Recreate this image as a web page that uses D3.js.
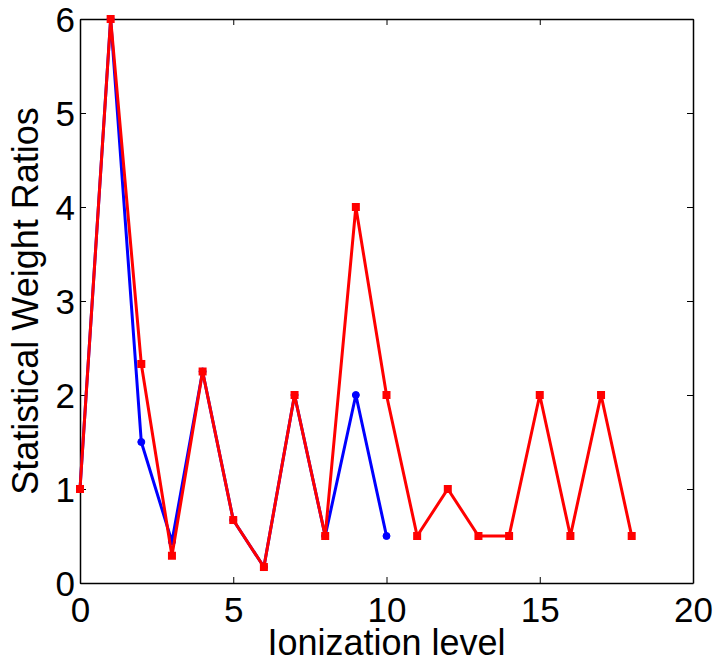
<!DOCTYPE html>
<html>
<head>
<meta charset="utf-8">
<script src="https://cdnjs.cloudflare.com/ajax/libs/d3/7.8.5/d3.min.js"></script>
<style>
  body { margin: 0; background: #fff; }
  text { font-family: "Liberation Sans", Arial, sans-serif; }
</style>
</head>
<body>
<div id="chart"></div>
<script>
// ionization levels and the two ratio series
var levelsBlue = [0, 1, 2, 3, 4, 5, 6, 7, 8, 9, 10];
var ratiosBlue = [1, 6, 1.5, 0.44, 2.25, 0.67, 0.17, 2, 0.5, 2, 0.5];
var levelsRed = [0, 1, 2, 3, 4, 5, 6, 7, 8, 9, 10, 11, 12, 13, 14, 15, 16, 17, 18];
var ratiosRed = [1, 6, 2.33, 0.29, 2.25, 0.67, 0.17, 2, 0.5, 4, 2, 0.5, 1, 0.5, 0.5, 2, 0.5, 2, 0.5];
var xTicks = [0, 5, 10, 15, 20];
var yTicks = [0, 1, 2, 3, 4, 5, 6];

var width = 717, height = 661;
var margin = {left: 80, right: 24, top: 19, bottom: 78};

var svg = d3.select("#chart").append("svg")
    .attr("width", width)
    .attr("height", height);

var x = d3.scaleLinear().domain([0, 20]).range([margin.left, width - margin.right]);
var y = d3.scaleLinear().domain([0, 6]).range([height - margin.bottom, margin.top]);

// axes, ticks pointing in like matlab
var xAxis = d3.axisBottom(x).tickValues(xTicks).tickFormat(d3.format("d"))
    .tickSizeInner(-6).tickSizeOuter(0).tickPadding(14);
var yAxis = d3.axisLeft(y).tickValues(yTicks).tickFormat(d3.format("d"))
    .tickSizeInner(-6).tickSizeOuter(0).tickPadding(5);

var gx = svg.append("g").attr("transform", "translate(0," + y(0) + ")").call(xAxis);
var gy = svg.append("g").attr("transform", "translate(" + x(0) + ",0)").call(yAxis);
var gxTop = svg.append("g").attr("transform", "translate(0," + y(6) + ")")
    .call(d3.axisTop(x).tickValues(xTicks).tickSizeInner(-6).tickSizeOuter(0).tickFormat(""));
var gyRight = svg.append("g").attr("transform", "translate(" + x(20) + ",0)")
    .call(d3.axisRight(y).tickValues(yTicks).tickSizeInner(-6).tickSizeOuter(0).tickFormat(""));

[gx, gy, gxTop, gyRight].forEach(function(g){
  g.select(".domain").attr("stroke", "#000").attr("stroke-width", 1.5);
  g.selectAll(".tick line").attr("stroke", "#000").attr("stroke-width", 1);
  g.selectAll(".tick text").attr("fill", "#000").style("font-size", "35px")
    .style("font-family", "'Liberation Sans', Arial, sans-serif");
});
gy.selectAll(".tick text").attr("dy", "0.36em");

var line = d3.line()
    .x(function(d){ return x(d[0]); })
    .y(function(d){ return y(d[1]); });

var blue = levelsBlue.map(function(v, i){ return [v, ratiosBlue[i]]; });
var red = levelsRed.map(function(v, i){ return [v, ratiosRed[i]]; });

svg.append("path").datum(blue)
    .attr("d", line)
    .attr("fill", "none")
    .attr("stroke", "#0000ff")
    .attr("stroke-width", 3);

svg.selectAll(".dotB").data(blue).enter().append("circle")
    .attr("class", "dotB")
    .attr("cx", function(d){ return x(d[0]); })
    .attr("cy", function(d){ return y(d[1]); })
    .attr("r", 3.5)
    .attr("fill", "#0000ff")
    .attr("stroke", "#0000ff")
    .attr("stroke-width", 1);

svg.append("path").datum(red)
    .attr("d", line)
    .attr("fill", "none")
    .attr("stroke", "#ff0000")
    .attr("stroke-width", 3);

svg.selectAll(".sqR").data(red).enter().append("rect")
    .attr("class", "sqR")
    .attr("x", function(d){ return x(d[0]) - 4; })
    .attr("y", function(d){ return y(d[1]) - 4; })
    .attr("width", 8)
    .attr("height", 8)
    .attr("fill", "#ff0000");

// axis labels
svg.append("text")
    .attr("x", (x(0) + x(20)) / 2)
    .attr("y", 655)
    .attr("text-anchor", "middle")
    .style("font-size", "36px")
    .text("Ionization level");

svg.append("text")
    .attr("transform", "translate(38," + (y(0) + y(6)) / 2 + ") rotate(-90)")
    .attr("text-anchor", "middle")
    .style("font-size", "36px")
    .text("Statistical Weight Ratios");
</script>
</body>
</html>
